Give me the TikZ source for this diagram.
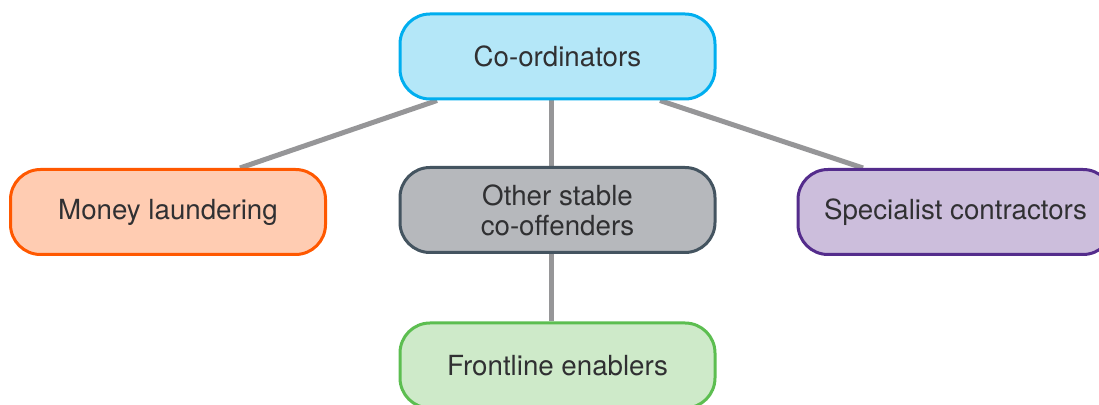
\documentclass[tikz,border=0pt]{standalone}
\usepackage{fontspec}
\setmainfont{TeX Gyre Heros}
\usepackage{xcolor}
\usetikzlibrary{backgrounds}
\definecolor{netInk}{RGB}{48,48,50}
\definecolor{netLink}{RGB}{150,150,152}
\definecolor{netCyan}{RGB}{0,174,239}
\definecolor{netCyanFill}{RGB}{180,231,248}
\definecolor{netOrange}{RGB}{255,88,0}
\definecolor{netOrangeFill}{RGB}{255,204,178}
\definecolor{netSlate}{RGB}{68,84,96}
\definecolor{netSlateFill}{RGB}{182,184,188}
\definecolor{netPurple}{RGB}{84,44,140}
\definecolor{netPurpleFill}{RGB}{204,190,220}
\definecolor{netGreen}{RGB}{92,190,80}
\definecolor{netGreenFill}{RGB}{206,234,201}
\tikzset{
  netbox/.style={rounded corners=15pt,line width=1.5pt,minimum width=157.5pt,
    minimum height=42.5pt,inner sep=0pt,align=center,text=netInk,
    font=\fontsize{13.85}{15}\selectfont},
  netlink/.style={draw=netLink,line width=2.5pt},
}
\begin{document}
\begin{tikzpicture}[x=0.5pt,y=-0.5pt]
  \useasboundingbox (0,0) rectangle (1099,405);

  % Roles of the network, one box each.
  \node[netbox,draw=netCyan,fill=netCyanFill] (coord) at (557.5,56.5) {Co-ordinators};
  \node[netbox,draw=netOrange,fill=netOrangeFill] (launder) at (168,212) {Money laundering};
  \node[netbox,draw=netSlate,fill=netSlateFill] (stable) at (557.5,210) {Other stable\\co-offenders};
  \node[netbox,draw=netPurple,fill=netPurpleFill] (special) at (955.5,212) {Specialist contractors};
  \node[netbox,draw=netGreen,fill=netGreenFill] (front) at (557.5,365.5) {Frontline enablers};

  % White page and the links, behind the boxes.
  \begin{scope}[on background layer]
    \fill[white] (0,0) rectangle (1099,405);
    \draw[netlink] ([xshift=-60.25pt]coord.south) -- ([xshift=36pt]launder.north);
    \draw[netlink] ([xshift=-3.25pt]coord.south) -- ([xshift=-3.25pt]stable.north);
    \draw[netlink] ([xshift=51.25pt]coord.south) -- ([xshift=-46.25pt]special.north);
    \draw[netlink] ([xshift=-3.25pt]stable.south) -- ([xshift=-3.25pt]front.north);
  \end{scope}
\end{tikzpicture}
\end{document}
